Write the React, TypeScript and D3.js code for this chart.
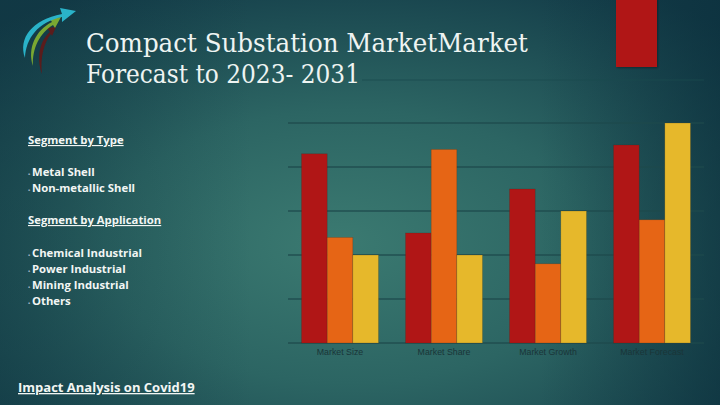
import React from "react";
import * as d3 from "d3";

const categories = ["Market Size", "Market Share", "Market Growth", "Market Forecast"];
const seriesA = [4.3, 2.5, 3.5, 4.5];
const seriesB = [2.4, 4.4, 1.8, 2.8];
const seriesC = [2.0, 2.0, 3.0, 5.0];
const gridTicks = [0, 1, 2, 3, 4, 5];
const typeItems = ["Metal Shell", "Non-metallic Shell"];
const appItems = ["Chemical Industrial", "Power Industrial", "Mining Industrial", "Others"];
const colors = ["#b01616", "#e66515", "#e6b82b"];

const W = 720, H = 405;

export default function App() {
  const x0 = d3.scaleBand<string>().domain(categories).range([288, 704]).paddingInner(0.26).paddingOuter(0.13);
  const keys = ["a", "b", "c"];
  const x1 = d3.scaleBand<string>().domain(keys).range([0, x0.bandwidth()]).padding(0);
  const y = d3.scaleLinear().domain([0, 5]).range([343, 123]);
  const series = [seriesA, seriesB, seriesC];
  const sans = "'Open Sans', Lato, sans-serif";
  return (
    <svg width={W} height={H} style={{ position: "absolute", left: 0, top: 0 }}>
      <defs>
        <radialGradient id="bg" cx="0.5" cy="0.62" r="0.75" fx="0.47" fy="0.6">
          <stop offset="0" stopColor="#3b7a71" />
          <stop offset="0.45" stopColor="#2c6563" />
          <stop offset="1" stopColor="#123a47" />
        </radialGradient>
        <linearGradient id="shade" x1="0" x2="1" y1="0" y2="0">
          <stop offset="0" stopColor="#0f3540" stopOpacity="0.4" />
          <stop offset="0.35" stopColor="#0f3540" stopOpacity="0" />
          <stop offset="0.75" stopColor="#0f3540" stopOpacity="0" />
          <stop offset="1" stopColor="#0b2f3c" stopOpacity="0.6" />
        </linearGradient>
        <filter id="sh" x="-20%" y="-20%" width="140%" height="140%">
          <feDropShadow dx="1" dy="1" stdDeviation="1" floodColor="#000" floodOpacity="0.35" />
        </filter>
      </defs>
      <rect width={W} height={H} fill="url(#bg)" />
      <rect width={W} height={H} fill="url(#shade)" />

      {/* logo */}
      <g>
        <path d="M42,74 C36,58 40,40 50,32 L47,28 L56,27 L52,36 L51,34 C44,42 40,58 42,74 Z" fill="#5a1c1c" />
        <path d="M33,66 C27,48 36,30 52,22 L49,18 L61,17 L55,28 L53,25 C40,33 32,48 33,66 Z" fill="#7aa832" />
        <path d="M25,58 C18,38 32,20 62,14 L60,8 L76,11 L62,22 L62,17 C38,22 26,38 25,58 Z" fill="#2ab3c9" />
      </g>

      {/* title */}
      <g fill="#eef4f2" fontFamily="'DejaVu Serif', serif" fontSize={26}>
        <text x={86} y={52} textLength={442} lengthAdjust="spacingAndGlyphs">Compact Substation MarketMarket</text>
        <text x={86} y={83} textLength={274} lengthAdjust="spacingAndGlyphs">Forecast to 2023- 2031</text>
      </g>
      <line x1={362} x2={704} y1={80} y2={80} stroke="#1a4a4e" strokeWidth={1} opacity={0.8} />

      {/* decorative red bar at top */}
      <rect x={616} y={-2} width={41} height={69} fill={colors[0]} filter="url(#sh)" />

      {/* left text */}
      <g fill="#f2f6f4" fontFamily={sans} fontSize={11.3} fontWeight="bold">
        <text x={28} y={144} textDecoration="underline">Segment by Type</text>
        {typeItems.map((t, i) => (
          <text key={t} x={28} y={176 + i * 16}>
            <tspan fontSize={6} fill="#9ab">•</tspan>
            <tspan x={32}>{t}</tspan>
          </text>
        ))}
        <text x={28} y={224} textDecoration="underline">Segment by Application</text>
        {appItems.map((t, i) => (
          <text key={t} x={28} y={257 + i * 16}>
            <tspan fontSize={6} fill="#9ab">•</tspan>
            <tspan x={32}>{t}</tspan>
          </text>
        ))}
        <text x={18} y={392} fontSize={13} textDecoration="underline">Impact Analysis on Covid19</text>
      </g>

      {/* gridlines */}
      {gridTicks.map((t) => (
        <line key={t} x1={288} x2={704} y1={y(t)} y2={y(t)} stroke="#1e4a4c" strokeWidth={1.5} opacity={0.85} />
      ))}

      {/* bars */}
      {categories.map((c, ci) => (
        <g key={c} transform={`translate(${x0(c)},0)`}>
          {series.map((s, si) => (
            <rect
              key={si}
              x={x1(keys[si])}
              y={y(s[ci])}
              width={x1.bandwidth()}
              height={y(0) - y(s[ci])}
              fill={colors[si]}
              stroke="#3a2a1a"
              strokeOpacity={0.35}
              strokeWidth={0.6}
            />
          ))}
        </g>
      ))}

      {/* category labels */}
      <g fill="#1a3538" fontFamily="'Liberation Sans', Arial, sans-serif" fontSize={8.8} textAnchor="middle">
        {categories.map((c) => (
          <text key={c} x={(x0(c) as number) + x0.bandwidth() / 2} y={355}>{c}</text>
        ))}
      </g>
    </svg>
  );
}
